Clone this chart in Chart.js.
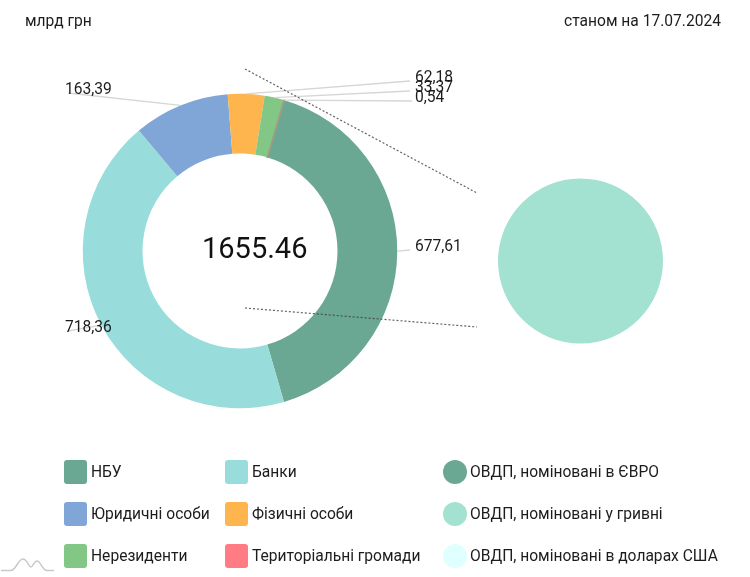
<!DOCTYPE html>
<html>
<head>
<meta charset="utf-8">
<script src="https://cdn.jsdelivr.net/npm/chart.js@4"></script>
<style>
html, body { margin: 0; padding: 0; background: #fff; }
#wrap { position: relative; width: 750px; height: 577px; overflow: hidden; font-family: Roboto, sans-serif; color: #1c1c1c; }
#wrap canvas { position: absolute; left: 0; top: 0; }
.txt { position: absolute; font-size: 15.6px; line-height: 18px; white-space: nowrap; }
.box { position: absolute; width: 23px; height: 24px; border-radius: 3px; }
.dot { position: absolute; width: 24px; height: 24px; border-radius: 50%; }
</style>
</head>
<body>
<div id="wrap">
  <canvas id="donut" width="750" height="577"></canvas>
  <canvas id="pie" width="750" height="577"></canvas>
  <div class="txt" style="left:25px;top:12px">млрд грн</div>
  <div class="txt" style="right:29px;top:12px">станом на 17.07.2024</div>
  <div id="legend"></div>
  <svg style="position:absolute;left:0;top:555px" width="60" height="20">
    <path d="M1 15.5 H11 C16 15.5 18 4 23 4 C27 4 29 12 31 12 C33 12 34 6 37 6 C41 6 42 15.5 47 15.5 H54" fill="none" stroke="#c9c9c9" stroke-width="1.5"/>
  </svg>
</div>
<script>
const holderLabels = ['НБУ', 'Банки', 'Юридичні особи', 'Фізичні особи', 'Нерезиденти', 'Територіальні громади'];
const holderValues = [677.61, 718.36, 163.39, 62.18, 33.37, 0.54];
const holderColors = ['#6aa894', '#98dddb', '#7fa6d6', '#ffb54d', '#82c785', '#ff7c85'];
const holderValueText = ['677,61', '718,36', '163,39', '62,18', '33,37', '0,54'];

const bondLabels = ['ОВДП, номіновані в ЄВРО', 'ОВДП, номіновані у гривні', 'ОВДП, номіновані в доларах США'];
const bondValues = [0, 1655.46, 0];
const bondColors = ['#6aa894', '#a3e1d0', '#e0ffff'];

const totalText = '1655.46';

// where each value label goes: label x/y, then line end near the label
const labelSpots = [
    { x: 415, y: 246, lx: 410, ly: 250 },
    { x: 65, y: 327, lx: 68, ly: 331 },
    { x: 65, y: 89, lx: 68, ly: 93 },
    { x: 415, y: 77, lx: 410, ly: 81 },
    { x: 415, y: 87, lx: 410, ly: 91 },
    { x: 415, y: 97, lx: 412, ly: 101 },
];

// draws value labels with leader lines and the total in the middle
const donutLabels = {
    id: 'donutLabels',
    afterDatasetsDraw(chart) {
        const ctx = chart.ctx;
        const arcs = chart.getDatasetMeta(0).data;
        ctx.save();
        ctx.font = '15.6px Roboto';
        ctx.textBaseline = 'middle';
        arcs.forEach((arc, i) => {
            const spot = labelSpots[i];
            const a = (arc.startAngle + arc.endAngle) / 2;
            ctx.strokeStyle = '#d6d6d6';
            ctx.lineWidth = 1.3;
            ctx.beginPath();
            ctx.moveTo(arc.x + Math.cos(a) * arc.outerRadius, arc.y + Math.sin(a) * arc.outerRadius);
            ctx.lineTo(spot.lx, spot.ly);
            ctx.stroke();
        });
        arcs.forEach((arc, i) => {
            ctx.fillStyle = '#1c1c1c';
            ctx.fillText(holderValueText[i], labelSpots[i].x, labelSpots[i].y + 1);
        });
        ctx.font = '29px Roboto';
        ctx.fillStyle = '#111';
        ctx.fillText(totalText, 202, 251);

        // dotted connectors towards the second pie
        ctx.strokeStyle = 'rgba(60,60,60,0.8)';
        ctx.lineWidth = 1.2;
        ctx.setLineDash([2, 2]);
        ctx.beginPath();
        ctx.moveTo(245, 69);
        ctx.lineTo(477, 193);
        ctx.moveTo(245, 308);
        ctx.lineTo(477, 327);
        ctx.stroke();
        ctx.restore();
    },
};

new Chart(document.getElementById('donut'), {
    type: 'doughnut',
    data: {
        labels: holderLabels,
        datasets: [{
            data: holderValues,
            backgroundColor: holderColors,
            // the smallest slice is too thin to see without an edge
            borderColor: ['#6aa894', '#98dddb', '#7fa6d6', '#ffb54d', '#82c785', '#a39a85'],
            borderWidth: [0, 0, 0, 0, 0, 1.5],
        }],
    },
    options: {
        responsive: false,
        animation: false,
        rotation: 16.4,
        cutout: '62%',
        layout: { padding: { left: 82, right: 352, top: 93, bottom: 168 } },
        plugins: { legend: { display: false }, tooltip: { enabled: false } },
    },
    plugins: [donutLabels],
});

new Chart(document.getElementById('pie'), {
    type: 'pie',
    data: {
        labels: bondLabels,
        datasets: [{ data: bondValues, backgroundColor: bondColors, borderWidth: 0 }],
    },
    options: {
        responsive: false,
        animation: false,
        layout: { padding: { left: 498, right: 87, top: 178, bottom: 233 } },
        plugins: { legend: { display: false }, tooltip: { enabled: false } },
    },
});

// legend
const legend = document.getElementById('legend');
const rowTops = [460, 502, 544];
function addLegend(label, color, shape, mx, tx, top) {
    const mark = document.createElement('div');
    mark.className = shape;
    mark.style.cssText = `left:${mx}px;top:${top}px;background:${color}`;
    legend.appendChild(mark);
    const t = document.createElement('div');
    t.className = 'txt';
    t.style.cssText = `left:${tx}px;top:${top + 3}px`;
    t.textContent = label;
    legend.appendChild(t);
}
[0, 2, 4].forEach((n, row) => {
    addLegend(holderLabels[n], holderColors[n], 'box', 64, 91, rowTops[row]);
    addLegend(holderLabels[n + 1], holderColors[n + 1], 'box', 225, 252, rowTops[row]);
});
bondLabels.forEach((label, row) => {
    addLegend(label, bondColors[row], 'dot', 443, 470, rowTops[row]);
});
</script>
</body>
</html>
